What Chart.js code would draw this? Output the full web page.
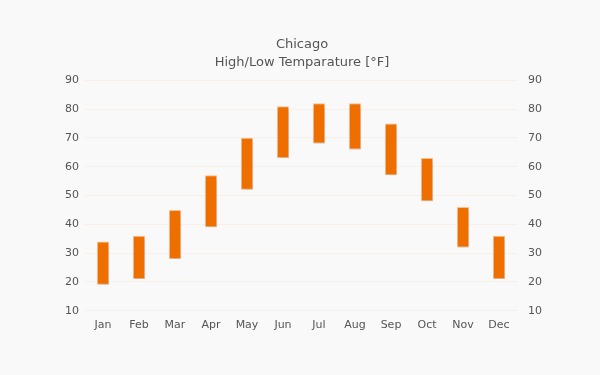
<!DOCTYPE html>
<html lang="en">
  <head>
    <meta charset="utf-8" />
    <title>Chicago High/Low</title>
    <script src="https://cdn.jsdelivr.net/npm/chart.js"></script>
    <style>
      html, body { margin: 0; padding: 0; background: #f9f9f9; }
      #wrap { width: 600px; height: 375px; }
    </style>
  </head>
  <body>
    <div id="wrap"><canvas id="tempChart"></canvas></div>
    <script>
      // monthly low / high
      const months = ['Jan', 'Feb', 'Mar', 'Apr', 'May', 'Jun', 'Jul', 'Aug', 'Sep', 'Oct', 'Nov', 'Dec'];
      const lows  = [19, 21, 28, 39, 52, 63, 68, 66, 57, 48, 32, 21];
      const highs = [34, 36, 45, 57, 70, 81, 82, 82, 75, 63, 46, 36];
      const yTicks = [10, 20, 30, 40, 50, 60, 70, 80, 90];

      const font = 'Verdana, "DejaVu Sans", sans-serif';
      const textColor = '#555';
      const gridColor = 'rgba(238, 110, 0, 0.07)';

      // soft shadow under the bars
      const shadowPlugin = {
        id: 'barShadow',
        beforeDatasetsDraw(chart) {
          const ctx = chart.ctx;
          ctx.save();
          ctx.shadowColor = 'rgba(0, 0, 0, 0.18)';
          ctx.shadowBlur = 4;
          ctx.shadowOffsetX = 1;
          ctx.shadowOffsetY = 2;
        },
        afterDatasetsDraw(chart) {
          chart.ctx.restore();
        }
      };

      const ranges = lows.map((lo, i) => [lo, highs[i]]);

      new Chart(document.getElementById('tempChart'), {
        type: 'bar',
        data: {
          labels: months,
          datasets: [{
            label: 'High/Low',
            data: ranges,
            backgroundColor: '#ee6e00',
            borderColor: 'rgba(255, 190, 140, 0.9)',
            borderWidth: 1,
            borderSkipped: false,
            barPercentage: 0.85,
            categoryPercentage: 0.4
          }]
        },
        options: {
          responsive: true,
          maintainAspectRatio: false,
          animation: false,
          layout: { padding: { left: 59, right: 55, top: 10, bottom: 43 } },
          plugins: {
            legend: { display: false },
            tooltip: { enabled: false },
            title: {
              display: true,
              text: 'Chicago',
              color: textColor,
              font: { family: font, size: 13, weight: 'normal' },
              padding: { top: 27, bottom: 2 }
            },
            subtitle: {
              display: true,
              text: 'High/Low Temparature [°F]',
              color: textColor,
              font: { family: font, size: 13, weight: 'normal' },
              padding: { top: 0, bottom: 10 }
            }
          },
          scales: {
            x: {
              grid: { display: false },
              border: { display: false },
              ticks: { color: textColor, font: { family: font, size: 11 }, padding: 0 }
            },
            y: {
              position: 'left',
              min: 10,
              max: 90,
              afterBuildTicks: axis => { axis.ticks = yTicks.map(v => ({ value: v })); },
              grid: { color: gridColor, drawTicks: false },
              border: { display: false },
              ticks: { color: textColor, font: { family: font, size: 11 }, padding: 6 }
            },
            y2: {
              position: 'right',
              min: 10,
              max: 90,
              afterBuildTicks: axis => { axis.ticks = yTicks.map(v => ({ value: v })); },
              grid: { display: false },
              border: { display: false },
              ticks: { color: textColor, font: { family: font, size: 11 }, padding: 3 }
            }
          }
        },
        plugins: [shadowPlugin]
      });
    </script>
  </body>
</html>
